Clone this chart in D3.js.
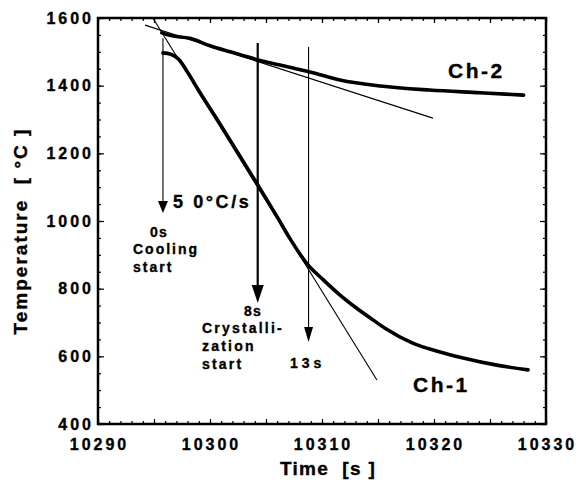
<!DOCTYPE html>
<html>
<head>
<meta charset="utf-8">
<script src="https://cdn.jsdelivr.net/npm/d3@7"></script>
<style>
  body { margin: 0; background: #fff; }
  svg text {
    font-family: 'Liberation Sans', Arial, Helvetica, sans-serif;
    font-weight: bold;
    fill: #000;
    stroke: #000;
    stroke-width: 0.35;
    white-space: pre;
  }
</style>
</head>
<body>
<div id="chart"></div>
<script>
// Ch-1 (fast cooled) thermocouple trace
const ch1Times = [10295.8, 10296.5, 10297.2, 10298, 10299, 10300.6, 10302, 10304.2, 10306, 10307.14,
  10308.63, 10310.12, 10311.61, 10313.1, 10314.58, 10315.63, 10318.1, 10320.3, 10322.6, 10325.6, 10328.4];
const ch1Temps = [1497, 1493, 1478, 1440, 1385, 1302, 1228, 1110, 1012, 948,
  875, 826, 781, 742, 707, 683, 639, 615, 595, 574, 560];

// Ch-2 trace
const ch2Times = [10295.7, 10296.5, 10298.2, 10300, 10301.8, 10304.3, 10306.25, 10309, 10311.6,
  10315.2, 10319.6, 10324.1, 10328];
const ch2Temps = [1556, 1548, 1540, 1518, 1500, 1476, 1461, 1440, 1417,
  1399, 1387, 1379, 1372];

// tangent lines [time, temp]
const tangentCh1 = [[10294.9, 1600], [10314.9, 530]];
const tangentCh2 = [[10294.2, 1579], [10319.9, 1304]];

// vertical arrows: 0s, 8s, 13s
const arrowTimes = [10295.8, 10304.26, 10308.8];
const arrowTops = [1540, 1526, 1514];
const arrowTips = [1024, 758, 642];

const timeTicks = [10290, 10300, 10310, 10320, 10330];
const tempTicks = [400, 600, 800, 1000, 1200, 1400, 1600];

const width = 578;
const height = 487;
const margin = { top: 18, right: 32, bottom: 63, left: 98 };

const x = d3.scaleLinear()
  .domain([10290, 10330])
  .range([margin.left, width - margin.right]);
const y = d3.scaleLinear()
  .domain([400, 1600])
  .range([height - margin.bottom, margin.top]);

const svg = d3.select('#chart').append('svg')
  .attr('width', width)
  .attr('height', height);

svg.append('rect')
  .attr('width', width)
  .attr('height', height)
  .attr('fill', '#fff');

// ticks, all pointing inward
function addTicks(axis, transform) {
  const g = svg.append('g')
    .attr('transform', transform)
    .call(axis);
  g.select('.domain').remove();
  g.selectAll('.tick line').attr('stroke', '#000').attr('stroke-width', 1.2);
  return g;
}

const xMinor = d3.range(10290, 10331, 1);
const xMajor = d3.range(10290, 10331, 5);
const yMinor = d3.range(400, 1601, 50);
const yMajor = d3.range(400, 1601, 200);
const bottom = height - margin.bottom;
const right = width - margin.right;

addTicks(d3.axisBottom(x).tickValues(xMinor).tickSize(-3).tickFormat(''), `translate(0,${bottom})`);
addTicks(d3.axisBottom(x).tickValues(xMajor).tickSize(-5).tickFormat(''), `translate(0,${bottom})`);
addTicks(d3.axisTop(x).tickValues(xMinor).tickSize(-3).tickFormat(''), `translate(0,${margin.top})`);
addTicks(d3.axisTop(x).tickValues(xMajor).tickSize(-5).tickFormat(''), `translate(0,${margin.top})`);
addTicks(d3.axisLeft(y).tickValues(yMinor).tickSize(-3).tickFormat(''), `translate(${margin.left},0)`);
addTicks(d3.axisLeft(y).tickValues(yMajor).tickSize(-6).tickFormat(''), `translate(${margin.left},0)`);
addTicks(d3.axisRight(y).tickValues(yMinor).tickSize(-3).tickFormat(''), `translate(${right},0)`);
addTicks(d3.axisRight(y).tickValues(yMajor).tickSize(-6).tickFormat(''), `translate(${right},0)`);

// frame
svg.append('rect')
  .attr('x', margin.left)
  .attr('y', margin.top)
  .attr('width', right - margin.left)
  .attr('height', bottom - margin.top)
  .attr('fill', 'none')
  .attr('stroke', '#000')
  .attr('stroke-width', 2.5);

// tick labels
svg.append('g').selectAll('text')
  .data(timeTicks)
  .join('text')
  .attr('x', (d) => x(d) + 1.5)
  .attr('y', 450)
  .attr('text-anchor', 'middle')
  .attr('font-size', 16)
  .attr('letter-spacing', 3)
  .text((d) => d);

svg.append('g').selectAll('text')
  .data(tempTicks)
  .join('text')
  .attr('x', 94)
  .attr('y', (d) => y(d))
  .attr('dy', '0.36em')
  .attr('text-anchor', 'end')
  .attr('font-size', 16)
  .attr('letter-spacing', 3)
  .text((d) => d);

// axis titles
svg.append('text')
  .attr('x', 328)
  .attr('y', 475)
  .attr('text-anchor', 'middle')
  .attr('font-size', 19)
  .attr('letter-spacing', 1.3)
  .text('Time  [s ]');

svg.append('text')
  .attr('transform', 'translate(27,231) rotate(-90)')
  .attr('text-anchor', 'middle')
  .attr('font-size', 19)
  .attr('letter-spacing', 2)
  .text('Temperature  [ °C ]');

// tangent lines
const line = d3.line()
  .x((d) => x(d[0]))
  .y((d) => y(d[1]));

[tangentCh1, tangentCh2].forEach((seg) => {
  svg.append('path')
    .attr('d', line(seg))
    .attr('fill', 'none')
    .attr('stroke', '#000')
    .attr('stroke-width', 1.1);
});

// arrows
const arrowStyles = [
  { lw: 1.1, hw: 10, hh: 12 },
  { lw: 2.2, hw: 12, hh: 18 },
  { lw: 1.1, hw: 9, hh: 15 }
];
arrowTimes.forEach((t, i) => {
  const s = arrowStyles[i];
  const ax = x(t);
  const tip = y(arrowTips[i]);
  svg.append('line')
    .attr('x1', ax).attr('x2', ax)
    .attr('y1', y(arrowTops[i]))
    .attr('y2', tip - s.hh + 2)
    .attr('stroke', '#000')
    .attr('stroke-width', s.lw);
  svg.append('path')
    .attr('d', `M${ax - s.hw / 2},${tip - s.hh}L${ax + s.hw / 2},${tip - s.hh}L${ax},${tip}Z`)
    .attr('fill', '#000');
});

// data curves
const curve = d3.line()
  .x((d) => x(d[0]))
  .y((d) => y(d[1]))
  .curve(d3.curveMonotoneX);

[d3.zip(ch1Times, ch1Temps), d3.zip(ch2Times, ch2Temps)].forEach((pts) => {
  svg.append('path')
    .attr('d', curve(pts))
    .attr('fill', 'none')
    .attr('stroke', '#000')
    .attr('stroke-width', 3.6)
    .attr('stroke-linejoin', 'round')
    .attr('stroke-linecap', 'round');
});

// annotations
function label(text, lx, ly, size, spacing, anchor) {
  svg.append('text')
    .attr('x', lx)
    .attr('y', ly)
    .attr('font-size', size)
    .attr('letter-spacing', spacing)
    .attr('text-anchor', anchor || 'start')
    .text(text);
}

label('5 0°C/s', 173, 208, 18, 2.6);
label('0s', 159, 237, 14, 1.2, 'middle');
label('Cooling', 133, 254, 14, 2);
label('start', 133, 272, 14, 2);
label('8s', 253, 316, 14, 1.2, 'middle');
label('Crystalli-', 202, 333, 14, 2.2);
label('zation', 202, 351, 14, 2.2);
label('start', 202, 369, 14, 2.2);
label('13s', 290, 368, 14, 4);
label('Ch-1', 413, 392, 21, 2.5);
label('Ch-2', 448, 78, 21, 2.5);
</script>
</body>
</html>
